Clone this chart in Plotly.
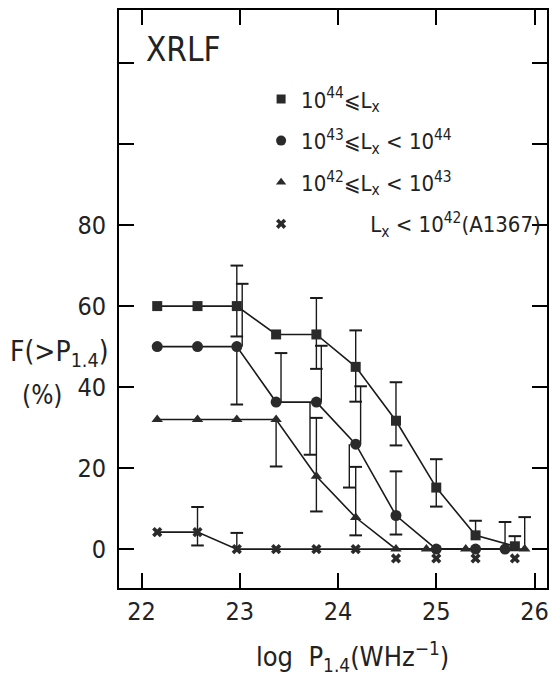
import plotly.graph_objects as go

# ---------------- data ----------------
x_pos = [22.16, 22.57, 22.97, 23.37, 23.78, 24.18, 24.59, 25.0, 25.4, 25.8]

sq_x = x_pos
sq_y = [60, 60, 60, 53, 53, 45, 31.7, 15.2, 3.4, 0.7]

ci_x = [22.16, 22.57, 22.97, 23.37, 23.78, 24.18, 24.59, 25.0, 25.4, 25.7]
ci_y = [50, 50, 50, 36.3, 36.3, 25.9, 8.3, 0, 0, 0]

tr_x = [22.16, 22.57, 22.97, 23.37, 23.78, 24.18, 24.59, 24.9, 25.3, 25.9]
tr_y = [32, 32, 32, 32, 18, 7.8, 0, 0, 0, 0]

cr_x = x_pos
cr_y = [4.2, 4.2, 0, 0, 0, 0, 0, 0, 0, 0]
cr_shown_below = [False] * 6 + [True] * 4   # crosses drawn just under the zero line

# error bars: (x, lower end, upper end); None = bar starts at the marker
sq_err = [(22.97, 52.5, 70), (23.78, 44.5, 62), (24.18, 36.4, 54), (24.59, 25.6, 41.2),
          (25.0, 10.5, 22.2), (25.4, None, 7.0), (25.8, None, 3.2)]
ci_err = [(22.97, None, 65.5), (22.97, 35.7, None),
          (23.37, None, 48.4),
          (23.78, None, 50.2), (23.78, 23.3, None),
          (24.18, None, 40.2), (24.18, 15.2, None),
          (24.59, 3.6, 19.2), (25.7, None, 6.7)]
tr_err = [(23.37, 20.4, None), (23.78, 9.3, 32.4), (24.18, 3.4, 20.3), (25.9, None, 7.9)]
cr_err = [(22.57, 0.9, 10.4), (22.97, None, 4.0)]

# horizontal drawing offsets of the error bars (style only)
sq_err_off = [0, 0, 0, 0, 0, 0, 0]
ci_err_off = [0.055, 0, 0.05, 0.05, -0.065, 0.05, -0.065, 0, 0]
tr_err_off = [0, 0, 0, 0]
cr_err_off = [0, 0]

x_ticks = [22, 23, 24, 25, 26]
y_ticks = [0, 20, 40, 60, 80, 100, 120]
y_ticktext = ["0", "20", "40", "60", "80", "", ""]

legend_names = [
    "10<sup>44</sup>\u2a7dL<sub>x</sub>",
    "10<sup>43</sup>\u2a7dL<sub>x</sub> < 10<sup>44</sup>",
    "10<sup>42</sup>\u2a7dL<sub>x</sub> < 10<sup>43</sup>",
    "\u00a0" * 11 + "L<sub>x</sub> < 10<sup>42</sup>(A1367)",
]

# ---------------- figure ----------------
FONT = "Liberation Sans Narrow, DejaVu Sans Condensed, Roboto Condensed, Arial Narrow, sans-serif"
MC = "#2a2a2a"
LC = "#1a1a1a"

fig = go.Figure()


def add_errors(series_x, series_y, errs, offs):
    lx, ly, capx, capy = [], [], [], []
    for (x, lo, hi), dx in zip(errs, offs):
        i = min(range(len(series_x)), key=lambda k: abs(series_x[k] - x))
        v = series_y[i]
        y0 = v if lo is None else lo
        y1 = v if hi is None else hi
        lx += [x + dx, x + dx, None]
        ly += [y0, y1, None]
        if lo is not None:
            capx.append(x + dx); capy.append(lo)
        if hi is not None:
            capx.append(x + dx); capy.append(hi)
    fig.add_trace(go.Scatter(x=lx, y=ly, mode="lines", line=dict(color=LC, width=1.4),
                             showlegend=False, hoverinfo="skip"))
    fig.add_trace(go.Scatter(x=capx, y=capy, mode="markers",
                             marker=dict(symbol="line-ew", size=9, line=dict(color=LC, width=2)),
                             showlegend=False, hoverinfo="skip"))


add_errors(sq_x, sq_y, sq_err, sq_err_off)
add_errors(ci_x, ci_y, ci_err, ci_err_off)
add_errors(tr_x, tr_y, tr_err, tr_err_off)
add_errors(cr_x, cr_y, cr_err, cr_err_off)

# lines
for xs, ys in [(cr_x, cr_y), (tr_x, tr_y), (ci_x, ci_y), (sq_x, sq_y)]:
    fig.add_trace(go.Scatter(x=xs, y=ys, mode="lines", line=dict(color=LC, width=1.6),
                             showlegend=False, hoverinfo="skip"))

# markers
fig.add_trace(go.Scatter(x=sq_x, y=sq_y, mode="markers", showlegend=False,
                         marker=dict(symbol="square", size=10, color=MC)))
fig.add_trace(go.Scatter(x=ci_x, y=ci_y, mode="markers", showlegend=False,
                         marker=dict(symbol="circle", size=11, color=MC)))
fig.add_trace(go.Scatter(x=tr_x, y=tr_y, mode="markers", showlegend=False,
                         marker=dict(symbol="triangle-up", size=10, color=MC)))
cx_on = [x for x, b in zip(cr_x, cr_shown_below) if not b]
cy_on = [y for y, b in zip(cr_y, cr_shown_below) if not b]
cx_dn = [x for x, b in zip(cr_x, cr_shown_below) if b]
cy_dn = [y - 2.3 for y, b in zip(cr_y, cr_shown_below) if b]
fig.add_trace(go.Scatter(x=cx_on + cx_dn, y=cy_on + cy_dn, mode="markers", showlegend=False,
                         marker=dict(symbol="x", size=9, color=MC)))

# legend entries
legend_symbols = [("square", 9), ("circle", 10), ("triangle-up", 9), ("x", 9)]
for k, (name, (sym, sz)) in enumerate(zip(legend_names, legend_symbols)):
    fig.add_trace(go.Scatter(x=[None], y=[None], mode="markers", name=name,
                             legendgroup=str(k),
                             marker=dict(symbol=sym, size=sz, color=MC)))

axis_common = dict(showline=True, linecolor="black", linewidth=2, mirror="ticks",
                   ticks="inside", ticklen=15, tickwidth=2, tickcolor="black",
                   showgrid=False, zeroline=False, automargin=False,
                   tickfont=dict(family=FONT, size=25, color="#222"))

fig.update_xaxes(range=[21.771, 26.127], tickvals=x_ticks, ticktext=[str(t) for t in x_ticks],
                 ticklabelstandoff=0, **axis_common)
fig.update_yaxes(range=[-9.6, 133.1], tickvals=y_ticks, ticktext=y_ticktext,
                 ticklabelstandoff=6, **axis_common)

fig.update_layout(
    width=553, height=680,
    margin=dict(l=119, r=6, t=10, b=92, autoexpand=False),
    paper_bgcolor="white", plot_bgcolor="white",
    showlegend=True,
    legend=dict(x=0.332, y=0.882, xanchor="left", yanchor="top",
                font=dict(family=FONT, size=22, color="#222"),
                traceorder="grouped", tracegroupgap=10, itemwidth=30,
                bgcolor="rgba(0,0,0,0)"),
    annotations=[
        dict(text="XRLF", x=0.15, y=0.931, xref="paper", yref="paper", showarrow=False,
             xanchor="center", yanchor="middle", font=dict(family=FONT, size=33, color="#222")),
        dict(text="F(>P<sub>1.4</sub>)", x=-0.138, y=0.405, xref="paper", yref="paper",
             showarrow=False, xanchor="center", yanchor="middle",
             font=dict(family=FONT, size=28, color="#222")),
        dict(text="(%)", x=-0.178, y=0.334, xref="paper", yref="paper", showarrow=False,
             xanchor="center", yanchor="middle", font=dict(family=FONT, size=26, color="#222")),
        dict(text="log  P<sub>1.4</sub>(WHz<sup>\u22121</sup>)", x=0.545, y=-0.118,
             xref="paper", yref="paper", showarrow=False, xanchor="center", yanchor="middle",
             font=dict(family=FONT, size=27, color="#222")),
    ],
)

fig.write_html("out.html", config={"displayModeBar": False},
               post_script="document.body.style.margin='0';document.body.style.padding='0';")
